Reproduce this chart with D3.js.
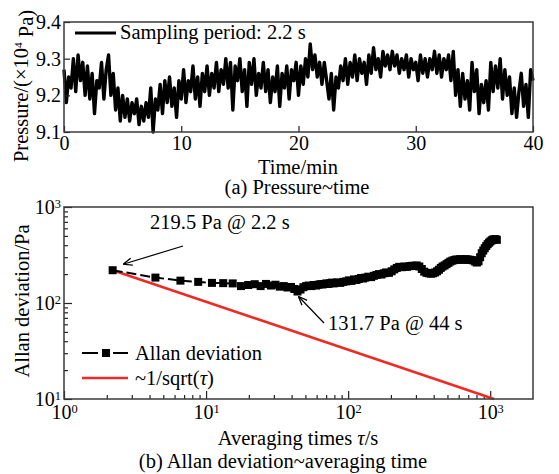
<!DOCTYPE html>
<html>
<head>
<meta charset="utf-8">
<script src="https://cdn.jsdelivr.net/npm/d3@7"></script>
<style>
body { margin: 0; background: #fff; }
text { font-family: "Liberation Serif", "Times New Roman", serif; fill: #000; }
</style>
</head>
<body>
<div id="chart"></div>
<script>
////////////////////////////////////////////////////////////////////////////////
// Data

// (a) pressure record, x10^4 Pa, one value every 0.2 min from 0 to 40 min
var timeStep = 0.2;
var pressure = [
    9.27, 9.18, 9.25, 9.22, 9.30,  9.21, 9.31, 9.24, 9.29, 9.20,
    9.28, 9.19, 9.26, 9.15, 9.24,  9.22, 9.29, 9.19, 9.27, 9.31,
    9.20, 9.26, 9.16, 9.22, 9.13,  9.20, 9.14, 9.19, 9.13, 9.18,
    9.15, 9.19, 9.12, 9.17, 9.13,  9.18, 9.14, 9.22, 9.10, 9.19,
    9.16, 9.23, 9.15, 9.24, 9.18,  9.25, 9.17, 9.22, 9.14, 9.24,
    9.19, 9.27, 9.18, 9.24, 9.21,  9.28, 9.19, 9.25, 9.17, 9.26,
    9.21, 9.28, 9.20, 9.26, 9.22,  9.29, 9.21, 9.27, 9.23, 9.30,
    9.22, 9.29, 9.16, 9.28, 9.24,  9.30, 9.21, 9.27, 9.17, 9.29,
    9.23, 9.30, 9.20, 9.26, 9.22,  9.29, 9.21, 9.27, 9.18, 9.25,
    9.21, 9.28, 9.17, 9.26, 9.22,  9.28, 9.19, 9.27, 9.24, 9.29,
    9.20, 9.28, 9.23, 9.30, 9.25,  9.34, 9.27, 9.31, 9.25, 9.29,
    9.23, 9.29, 9.24, 9.19, 9.26,  9.16, 9.25, 9.22, 9.28, 9.24,
    9.30, 9.23, 9.29, 9.25, 9.31,  9.24, 9.30, 9.26, 9.29, 9.23,
    9.31, 9.26, 9.33, 9.27, 9.30,  9.25, 9.32, 9.28, 9.31, 9.27,
    9.32, 9.28, 9.31, 9.26, 9.30,  9.27, 9.31, 9.25, 9.30, 9.27,
    9.29, 9.24, 9.31, 9.26, 9.30,  9.25, 9.30, 9.27, 9.32, 9.26,
    9.31, 9.25, 9.30, 9.27, 9.31,  9.24, 9.32, 9.20, 9.27, 9.17,
    9.26, 9.19, 9.24, 9.16, 9.29,  9.21, 9.27, 9.15, 9.23, 9.18,
    9.24, 9.16, 9.29, 9.21, 9.28,  9.22, 9.30, 9.19, 9.27, 9.20,
    9.25, 9.15, 9.22, 9.14, 9.21,  9.26, 9.17, 9.23, 9.14, 9.27,
    9.24
];
var timeTicks = [0, 10, 20, 30, 40];
var pressureTicks = [9.1, 9.2, 9.3, 9.4];

// (b) Allan deviation, averaging time in s and deviation in Pa
var tau = [2.2, 4.4, 6.6, 8.8, 11, 13.2, 15.4, 17.6, 19.8, 22, 24.2, 26.4, 28.6, 30.8,
    33, 35.2, 37.4, 39.6, 41.8, 44, 46.2, 48.4, 50.6, 52.8, 55, 57.2, 59.4, 61.6, 63.8,
    66, 68.2, 70.4, 72.6, 74.8, 77, 79.2, 83.6, 88, 92.4, 96.8, 101.2, 105.6, 110, 114.4,
    118.8, 123.2, 127.6, 132, 138.6, 145.2, 151.8, 158.4, 165, 171.6, 178.2, 184.8, 193.6,
    202.4, 211.2, 220, 228.8, 237.6, 248.6, 259.6, 270.6, 281.6, 292.6, 303.6, 316.8, 330,
    343.2, 356.4, 369.6, 382.8, 396, 409.2, 422.4, 435.6, 448.8, 462, 477.4, 492.8, 508.2,
    523.6, 541.2, 558.8, 576.4, 594, 613.8, 633.6, 653.4, 673.2, 695.2, 717.2, 739.2, 761.2,
    783.2, 805.2, 827.2, 849.2, 871.2, 893.2, 915.2, 937.2, 959.2, 981.2, 1003.2, 1025.2,
    1047.2, 1069.2, 1091.2, 1113.2];
var adev = [219.5, 184, 171, 166, 162, 161, 160, 150, 154, 157, 150, 158, 152, 155,
    148, 150, 145, 147, 140, 131.7, 138, 146, 150, 152, 150, 154, 152, 155, 157,
    156, 158, 160, 158, 161, 163, 160, 164, 162, 166, 168, 172, 170, 176, 174,
    178, 182, 180, 184, 188, 186, 192, 196, 200, 198, 204, 208, 206,
    214, 224, 232, 238, 236, 240, 238, 242, 244, 244, 246, 240, 226,
    212, 206, 204, 202, 204, 208, 214, 222, 232, 240, 246, 254, 262,
    270, 276, 280, 284, 282, 286, 284, 282, 286, 284, 282, 280, 278,
    270, 264, 272, 300, 330, 352, 372, 392, 410, 425, 438, 450,
    458, 460, 462, 455];
// reference slope ~1/sqrt(tau) through the first point
var refTau = [2.2, 1064];
var refDev = [219.5, 10];
var decadeTicks = [1, 10, 100, 1000];

////////////////////////////////////////////////////////////////////////////////
var svg = d3.select("#chart").append("svg").attr("width", 559).attr("height", 474);
var frameColor = "#3a3a3a";
var fontSize = 20;
var labelSize = 20.5;

function styleAxis(g) {
    g.attr("font-family", "Liberation Serif, serif").attr("font-size", fontSize).attr("color", "#222");
    g.select(".domain").remove();
    g.selectAll(".tick line").attr("stroke-width", 1.2);
}

function powerLabels(g) {
    g.selectAll(".tick text").each(function (d) {
        var t = d3.select(this).text("10");
        t.append("tspan").attr("dy", "-0.5em").attr("font-size", "0.62em")
            .text(Math.round(Math.log10(d)));
    });
}

////////////////////////////////////////////////////////////////////////////////
// (a) Pressure ~ time
var xT = d3.scaleLinear().domain([0, 40]).range([64, 533]);
var yT = d3.scaleLinear().domain([9.1, 9.4]).range([132, 22]);

var line = d3.line()
    .x(function (d, i) { return xT(i * timeStep); })
    .y(function (d) { return yT(d); });

svg.append("path").datum(pressure)
    .attr("d", line)
    .attr("fill", "none")
    .attr("stroke", "#000")
    .attr("stroke-width", 3.4)
    .attr("stroke-linejoin", "round");

svg.append("g").attr("transform", "translate(0,132)")
    .call(d3.axisBottom(xT).tickValues(timeTicks).tickFormat(d3.format("d"))
        .tickSizeInner(-6).tickSizeOuter(0).tickPadding(4))
    .call(styleAxis);

svg.append("g").attr("transform", "translate(64,0)")
    .call(d3.axisLeft(yT).tickValues(pressureTicks).tickFormat(d3.format(".1f"))
        .tickSizeInner(-6).tickSizeOuter(0).tickPadding(3))
    .call(styleAxis);

svg.append("rect").attr("x", 64).attr("y", 22).attr("width", 469).attr("height", 110)
    .attr("fill", "none").attr("stroke", frameColor).attr("stroke-width", 1.5);

// legend
svg.append("line").attr("x1", 75).attr("x2", 116).attr("y1", 33).attr("y2", 33)
    .attr("stroke", "#000").attr("stroke-width", 3);
svg.append("text").attr("x", 120).attr("y", 39).attr("font-size", labelSize).text("Sampling period: 2.2 s");

// labels
var yLabA = svg.append("text").attr("transform", "translate(28,86) rotate(-90)")
    .attr("text-anchor", "middle").attr("font-size", labelSize);
yLabA.append("tspan").text("Pressure/(\u00d710");
yLabA.append("tspan").attr("dy", "-0.5em").attr("font-size", "0.55em").text("4");
yLabA.append("tspan").attr("dy", "0.5em").text(" Pa)");

svg.append("text").attr("x", 298).attr("y", 174).attr("text-anchor", "middle")
    .attr("font-size", labelSize).text("Time/min");
svg.append("text").attr("x", 297).attr("y", 194).attr("text-anchor", "middle")
    .attr("font-size", labelSize).text("(a) Pressure~time");

////////////////////////////////////////////////////////////////////////////////
// (b) Allan deviation ~ averaging time
var xB = d3.scaleLog().domain([1, 2000]).range([64, 533]);
var yB = d3.scaleLog().domain([10, 1000]).range([399, 207]);

var minorX = [], minorY = [];
[1, 10, 100, 1000].forEach(function (p) {
    for (var k = 2; k <= 9; k++) {
        if (p * k < 2000) minorX.push(p * k);
        if (p >= 10 && p * k < 1000) minorY.push(p * k);
    }
});

svg.append("g").attr("transform", "translate(0,399)")
    .call(d3.axisBottom(xB).tickValues(minorX).tickFormat("").tickSizeInner(-4).tickSizeOuter(0))
    .call(styleAxis);
svg.append("g").attr("transform", "translate(0,399)")
    .call(d3.axisBottom(xB).tickValues(decadeTicks).tickSizeInner(-8).tickSizeOuter(0).tickPadding(6))
    .call(styleAxis).call(powerLabels);

svg.append("g").attr("transform", "translate(64,0)")
    .call(d3.axisLeft(yB).tickValues(minorY).tickFormat("").tickSizeInner(-4).tickSizeOuter(0))
    .call(styleAxis);
svg.append("g").attr("transform", "translate(64,0)")
    .call(d3.axisLeft(yB).tickValues([10, 100, 1000]).tickSizeInner(-8).tickSizeOuter(0).tickPadding(3))
    .call(styleAxis).call(powerLabels);

// reference line
svg.append("path").datum(refTau)
    .attr("d", d3.line().x(function (d) { return xB(d); }).y(function (d, i) { return yB(refDev[i]); }))
    .attr("fill", "none").attr("stroke", "#ee2a24").attr("stroke-width", 2.6);

// Allan deviation
svg.append("path").datum(tau)
    .attr("d", d3.line().x(function (d) { return xB(d); }).y(function (d, i) { return yB(adev[i]); }))
    .attr("fill", "none").attr("stroke", "#000").attr("stroke-width", 2)
    .attr("stroke-dasharray", "10,4");

var sq = 8;
svg.append("g").selectAll("rect").data(tau).enter().append("rect")
    .attr("x", function (d) { return xB(d) - sq / 2; })
    .attr("y", function (d, i) { return yB(adev[i]) - sq / 2; })
    .attr("width", sq).attr("height", sq).attr("fill", "#000");

svg.append("rect").attr("x", 64).attr("y", 207).attr("width", 469).attr("height", 192)
    .attr("fill", "none").attr("stroke", frameColor).attr("stroke-width", 1.5);

// annotations
var defs = svg.append("defs");
defs.append("marker").attr("id", "arrow").attr("viewBox", "0 0 10 10")
    .attr("refX", 9).attr("refY", 5).attr("markerWidth", 9).attr("markerHeight", 9)
    .attr("markerUnits", "userSpaceOnUse").attr("orient", "auto")
    .append("path").attr("d", "M0,1 L10,5 L0,9").attr("fill", "none")
    .attr("stroke", "#000").attr("stroke-width", 1.4);

svg.append("line").attr("x1", 183).attr("y1", 246).attr("x2", 124).attr("y2", 264)
    .attr("stroke", "#000").attr("stroke-width", 1.2).attr("marker-end", "url(#arrow)");
svg.append("text").attr("x", 150).attr("y", 229).attr("font-size", labelSize).text("219.5 Pa @ 2.2 s");

svg.append("line").attr("x1", 324).attr("y1", 323).attr("x2", 299).attr("y2", 297)
    .attr("stroke", "#000").attr("stroke-width", 1.2).attr("marker-end", "url(#arrow)");
svg.append("text").attr("x", 328).attr("y", 330).attr("font-size", labelSize).text("131.7 Pa @ 44 s");

// legend
svg.append("line").attr("x1", 82).attr("x2", 98).attr("y1", 353).attr("y2", 353)
    .attr("stroke", "#000").attr("stroke-width", 2);
svg.append("line").attr("x1", 113).attr("x2", 128).attr("y1", 353).attr("y2", 353)
    .attr("stroke", "#000").attr("stroke-width", 2);
svg.append("rect").attr("x", 106 - sq / 2).attr("y", 353 - sq / 2).attr("width", sq).attr("height", sq)
    .attr("fill", "#000");
svg.append("text").attr("x", 135).attr("y", 360).attr("font-size", labelSize).text("Allan deviation");

svg.append("line").attr("x1", 82).attr("x2", 128).attr("y1", 378).attr("y2", 378)
    .attr("stroke", "#ee2a24").attr("stroke-width", 2.6);
var refLab = svg.append("text").attr("x", 135).attr("y", 385).attr("font-size", labelSize);
refLab.append("tspan").text("~1/sqrt(");
refLab.append("tspan").attr("font-style", "italic").text("\u03c4");
refLab.append("tspan").text(")");

// labels
svg.append("text").attr("transform", "translate(29,301) rotate(-90)")
    .attr("text-anchor", "middle").attr("font-size", labelSize).text("Allan deviation/Pa");

var xLabB = svg.append("text").attr("x", 298).attr("y", 445).attr("text-anchor", "middle")
    .attr("font-size", labelSize);
xLabB.append("tspan").text("Averaging times ");
xLabB.append("tspan").attr("font-style", "italic").text("\u03c4");
xLabB.append("tspan").text("/s");

svg.append("text").attr("x", 283).attr("y", 468).attr("text-anchor", "middle")
    .attr("font-size", labelSize).text("(b) Allan deviation~averaging time");
</script>
</body>
</html>
